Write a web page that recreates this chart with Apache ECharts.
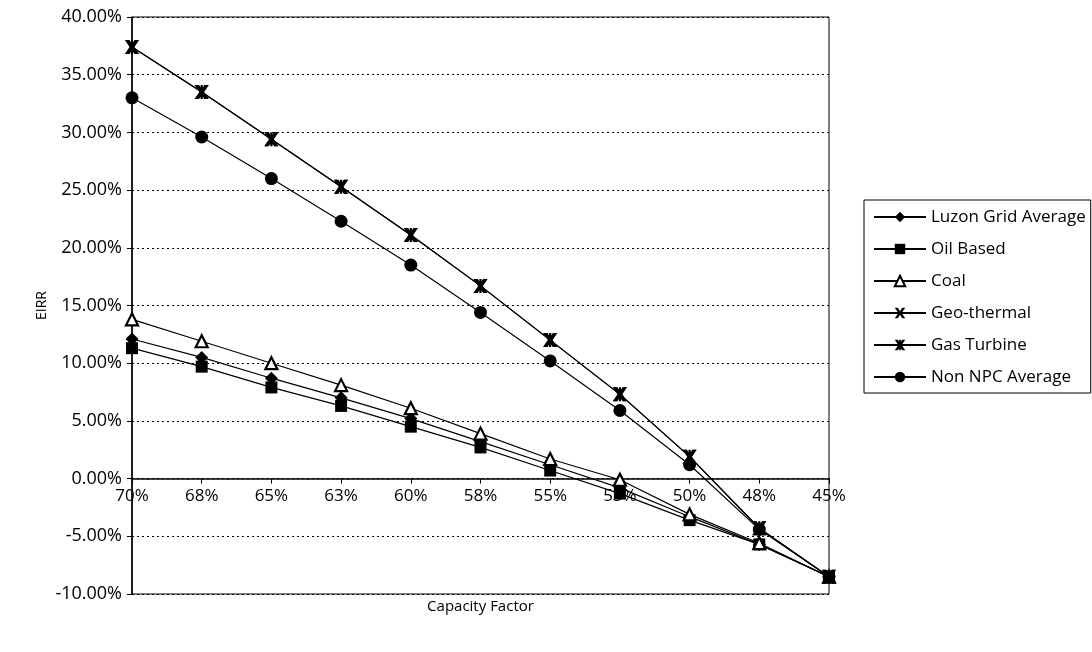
<!DOCTYPE html>
<html>
<head>
<meta charset="utf-8">
<script src="https://cdn.jsdelivr.net/npm/echarts@6/dist/echarts.min.js"></script>
<style>
  html, body { margin: 0; padding: 0; background: #fff; }
  #chart { width: 1092px; height: 652px; }
</style>
</head>
<body>
<div id="chart"></div>
<script>
// Capacity factor categories along the horizontal axis
const capacityFactors = ['70%', '68%', '65%', '63%', '60%', '58%', '55%', '53%', '50%', '48%', '45%'];

// EIRR (%) for each generation benchmark
const luzonGridAverage = [12.1, 10.5, 8.7, 7.0, 5.2, 3.2, 1.2, -0.8, -3.3, -5.7, -8.5];
const oilBased         = [11.3, 9.7, 7.9, 6.3, 4.5, 2.7, 0.7, -1.3, -3.6, -5.7, -8.5];
const coal             = [13.8, 11.9, 10.0, 8.1, 6.1, 3.9, 1.7, -0.1, -3.1, -5.6, -8.5];
const geoThermal       = [37.4, 33.5, 29.4, 25.3, 21.1, 16.7, 12.0, 7.3, 1.9, -4.3, -8.5];
const gasTurbine       = [37.4, 33.5, 29.4, 25.3, 21.1, 16.7, 12.0, 7.3, 1.9, -4.3, -8.5];
const nonNpcAverage    = [33.0, 29.6, 26.0, 22.3, 18.5, 14.4, 10.2, 5.9, 1.2, -4.4, -8.5];

// Value range of the EIRR axis
const Y_MIN = -10, Y_MAX = 40, Y_STEP = 5;

const FONT = '"Open Sans", Lato, sans-serif';

// Plot area box (px)
const GRID = { left: 132, right: 263, top: 17, bottom: 58 };
const CHART_H = 652;
const plotH = CHART_H - GRID.top - GRID.bottom;
// Lift the category axis so it sits on the 0% line
const zeroLift = plotH * (0 - Y_MIN) / (Y_MAX - Y_MIN);

// Marker shapes
const crossSymbol = 'path://M0,0 L3,0 L5,3.2 L7,0 L10,0 L6.6,5 L10,10 L7,10 L5,6.8 L3,10 L0,10 L3.4,5 Z';
const starSymbol  = 'path://M0,0 L3,0 L4.2,1.8 L4.2,0 L5.8,0 L5.8,1.8 L7,0 L10,0 L6.6,5 L10,10 L7,10 L5.8,8.2 L5.8,10 L4.2,10 L4.2,8.2 L3,10 L0,10 L3.4,5 Z';

function lineSeries(name, data, symbol, size, fill) {
  return {
    name: name,
    type: 'line',
    data: data,
    symbol: symbol,
    symbolSize: size,
    showSymbol: true,
    lineStyle: { color: '#000', width: 1.2 },
    itemStyle: { color: fill || '#000', borderColor: '#000', borderWidth: fill ? 2.2 : 0 },
    emphasis: { disabled: true },
    z: 3
  };
}

const chart = echarts.init(document.getElementById('chart'), null, { renderer: 'canvas' });
chart.setOption({
  animation: false,
  backgroundColor: '#fff',
  textStyle: { fontFamily: FONT, color: '#000' },
  grid: {
    left: GRID.left, right: GRID.right, top: GRID.top, bottom: GRID.bottom,
    outerBoundsMode: 'none',
    containLabel: false,
    show: true, borderColor: '#000', borderWidth: 1, backgroundColor: 'transparent'
  },
  legend: {
    orient: 'vertical',
    left: 864, top: 200,
    padding: [7, 5, 6, 9],
    itemGap: 12,
    itemWidth: 52,
    itemHeight: 13,
    borderColor: '#000', borderWidth: 1,
    textStyle: { fontFamily: FONT, fontSize: 17, lineHeight: 20, color: '#000' },
    data: ['Luzon Grid Average', 'Oil Based', 'Coal', 'Geo-thermal', 'Gas Turbine', 'Non NPC Average']
  },
  xAxis: {
    type: 'category',
    data: capacityFactors,
    boundaryGap: false,
    offset: -zeroLift,
    name: 'Capacity Factor',
    nameLocation: 'middle',
    nameGap: 121,
    nameMoveOverlap: false,
    nameTextStyle: { fontFamily: FONT, fontSize: 15, color: '#000' },
    axisLine: { onZero: false, lineStyle: { color: '#000', width: 1.5 } },
    axisTick: { show: true, inside: false, length: 5, lineStyle: { color: '#000' } },
    axisLabel: { fontFamily: FONT, fontSize: 17, color: '#000', margin: 9 },
    splitLine: { show: false }
  },
  yAxis: {
    type: 'value',
    min: Y_MIN, max: Y_MAX, interval: Y_STEP,
    name: 'EIRR',
    nameLocation: 'middle',
    nameGap: 83,
    nameRotate: 90,
    nameMoveOverlap: false,
    nameTextStyle: { fontFamily: FONT, fontSize: 14, color: '#000' },
    axisLine: { show: true, lineStyle: { color: '#000', width: 1.5 } },
    axisTick: { show: true, length: 5, lineStyle: { color: '#000' } },
    axisLabel: {
      fontFamily: FONT, fontSize: 18, color: '#000', margin: 10,
      formatter: v => v.toFixed(2) + '%'
    },
    splitLine: { show: true, lineStyle: { color: '#000', type: [2, 3], width: 1 } }
  },
  series: [
    lineSeries('Luzon Grid Average', luzonGridAverage, 'diamond', 13),
    lineSeries('Oil Based', oilBased, 'rect', 12),
    lineSeries('Coal', coal, 'triangle', 12, '#fff'),
    lineSeries('Geo-thermal', geoThermal, crossSymbol, 14),
    lineSeries('Gas Turbine', gasTurbine, starSymbol, 14),
    lineSeries('Non NPC Average', nonNpcAverage, 'circle', 13)
  ]
});
</script>
</body>
</html>
